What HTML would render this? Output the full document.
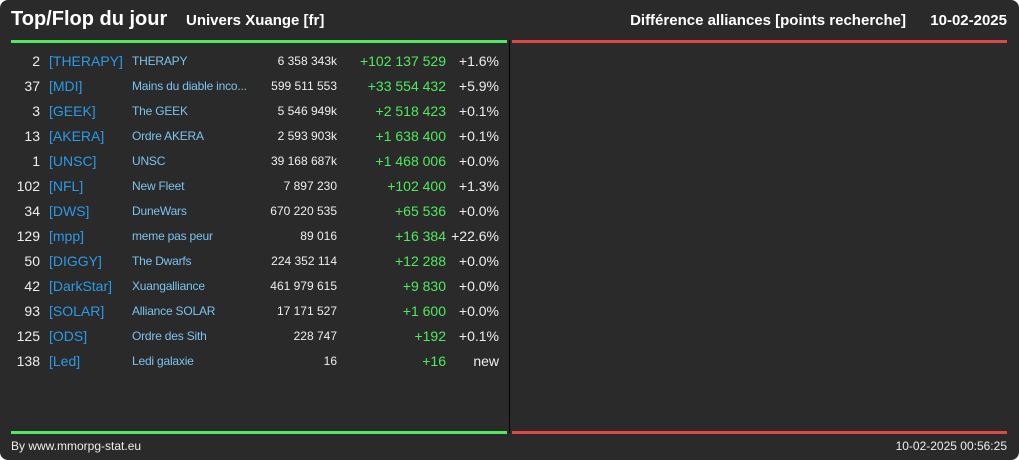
<!DOCTYPE html>
<html><head><meta charset="utf-8">
<style>
html,body{margin:0;padding:0;background:#fff;}
#root{position:relative;width:1019px;height:460px;background:#2a2a2a;border-radius:8px;overflow:hidden;font-family:"Liberation Sans",sans-serif;color:#eee;}
.t{position:absolute;white-space:nowrap;}
</style></head>
<body>
<div id="root">
  <div class="t" style="left:11px;top:8px;font-size:20px;font-weight:bold;color:#fff;">Top/Flop du jour</div>
  <div class="t" style="left:186px;top:12px;font-size:15px;font-weight:bold;color:#fff;">Univers Xuange [fr]</div>
  <div class="t" style="right:113px;top:12px;font-size:15px;font-weight:bold;color:#fff;">Différence alliances [points recherche]</div>
  <div class="t" style="right:12px;top:12px;font-size:15px;font-weight:bold;color:#fff;">10-02-2025</div>
  <div style="position:absolute;left:11px;top:40px;width:496px;height:3px;background:#4fea5f;"></div>
  <div style="position:absolute;left:512px;top:40px;width:495px;height:3px;background:#e04848;"></div>
  <div style="position:absolute;left:509px;top:40px;width:1px;height:393px;background:#000;"></div>
  <div style="position:absolute;left:11px;top:431px;width:496px;height:3px;background:#4fea5f;"></div>
  <div style="position:absolute;left:512px;top:431px;width:495px;height:3px;background:#e04848;"></div>
  <div class="t" style="left:11px;top:439px;font-size:12px;color:#eee;">By www.mmorpg-stat.eu</div>
  <div class="t" style="right:12px;top:439px;font-size:12px;color:#eee;">10-02-2025 00:56:25</div>
  <div id="rows"></div>
</div>
<script>
const ranks=["2","37","3","13","1","102","34","129","50","42","93","125","138"];
const tags=["[THERAPY]","[MDI]","[GEEK]","[AKERA]","[UNSC]","[NFL]","[DWS]","[mpp]","[DIGGY]","[DarkStar]","[SOLAR]","[ODS]","[Led]"];
const names=["THERAPY","Mains du diable inco...","The GEEK","Ordre AKERA","UNSC","New Fleet","DuneWars","meme pas peur","The Dwarfs","Xuangalliance","Alliance SOLAR","Ordre des Sith","Ledi galaxie"];
const points=["6 358 343k","599 511 553","5 546 949k","2 593 903k","39 168 687k","7 897 230","670 220 535","89 016","224 352 114","461 979 615","17 171 527","228 747","16"];
const diffs=["+102 137 529","+33 554 432","+2 518 423","+1 638 400","+1 468 006","+102 400","+65 536","+16 384","+12 288","+9 830","+1 600","+192","+16"];
const pcts=["+1.6%","+5.9%","+0.1%","+0.1%","+0.0%","+1.3%","+0.0%","+22.6%","+0.0%","+0.0%","+0.0%","+0.1%","new"];
const container=document.getElementById('rows');
function cell(txt,style,name,inter){
  const d=document.createElement('div');
  d.className='t';
  d.textContent=txt;
  d.style.cssText=style;
  
  
  container.appendChild(d);
}
ranks.forEach((r,i)=>{
  const y=53+i*25;
  cell(r,`right:${1019-40}px;top:${y}px;font-size:14px;color:#eee;`,'rank','false');
  cell(tags[i],`left:49px;top:${y}px;font-size:14px;color:#2a9be8;`,'alliance-tag','true');
  cell(names[i],`left:132px;top:${y+1}px;font-size:12px;letter-spacing:-0.2px;color:#7cc3ef;`,'alliance-name','true');
  cell(points[i],`right:${1019-337}px;top:${y+1}px;font-size:12px;color:#eee;`,'points','false');
  cell(diffs[i],`right:${1019-446}px;top:${y}px;font-size:14px;color:#4fea5f;`,'difference','false');
  cell(pcts[i],`right:${1019-499}px;top:${y}px;font-size:14px;color:#eee;`,'percent','false');
});
</script>
</body></html>
